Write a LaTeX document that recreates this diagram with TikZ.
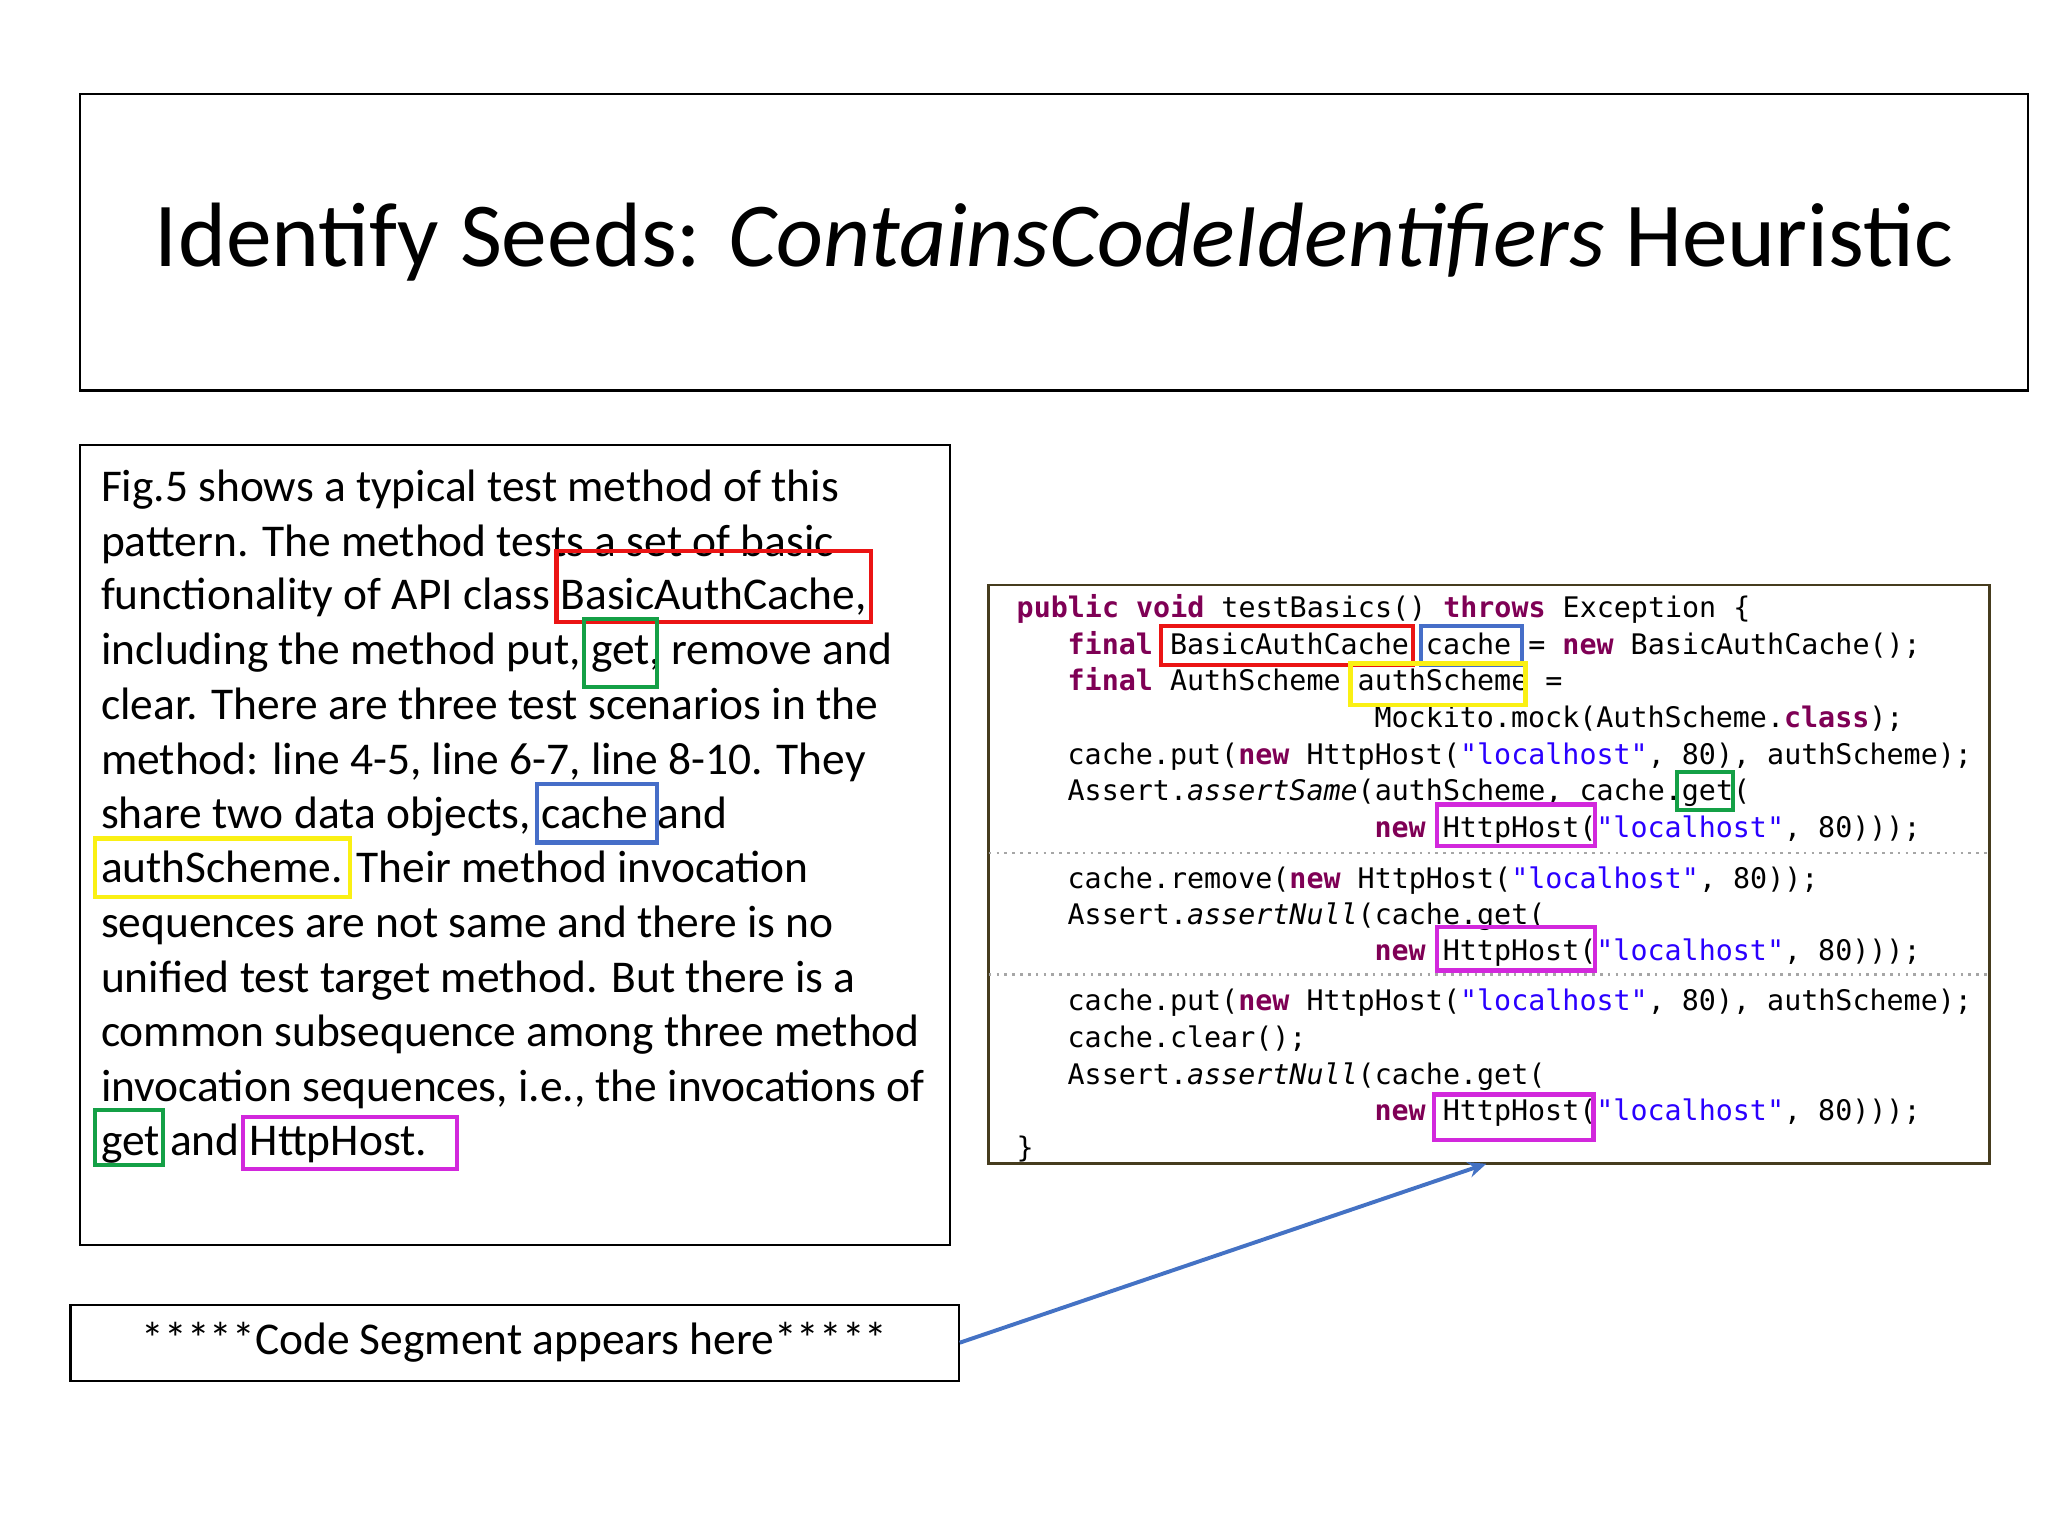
\documentclass[tikz,border=0pt]{standalone}
\usepackage{fontspec}
\setmainfont{Carlito}
\newfontfamily\codefont{DejaVu Sans Mono}
\usetikzlibrary{arrows.meta}
\definecolor{kwc}{RGB}{127,0,85}
\definecolor{strc}{RGB}{42,0,255}
\definecolor{hred}{RGB}{235,20,20}
\definecolor{hgreen}{RGB}{20,160,70}
\definecolor{hblue}{RGB}{70,110,200}
\definecolor{hyel}{RGB}{250,240,20}
\definecolor{hmag}{RGB}{210,40,220}
\definecolor{arr}{RGB}{68,114,196}
\newcommand\kw[1]{\textcolor{kwc}{\bfseries #1}}
\newcommand\st[1]{\textcolor{strc}{#1}}
\tikzset{
 frame/.style={draw=black, line width=0.8pt},
 body/.style={anchor=base west, inner sep=0, font=\fontsize{17.4}{20}\selectfont},
 code/.style={anchor=base west, inner sep=0, font=\codefont\fontsize{10.85}{14}\selectfont},
 hl/.style={line width=1.6pt},
}
\begin{document}
\begin{tikzpicture}[x=0.5pt,y=-0.5pt]
\useasboundingbox (0,0) rectangle (1568,1176);
% title
\draw[frame] (61,72) rectangle (1553,299);
\node[inner sep=0, font=\fontsize{35}{40}\selectfont] (title) at (807,185) {Identify Seeds: \textit{ContainsCodeIdentifiers} Heuristic};
% text box
\draw[frame] (61,341) rectangle (727,953);
\node[body] (l1) at (77,384) {Fig.5 shows a typical test method of this};
\node[body] (l2) at (77,426) {pattern. The method tests a set of basic};
\node[body] (l3) at (77,467) {functionality of API class BasicAuthCache,};
\node[body] (l4) at (77,509) {including the method put, get, remove and};
\node[body] (l5) at (77,551) {clear. There are three test scenarios in the};
\node[body] (l6) at (77,593) {method: line 4-5, line 6-7, line 8-10. They};
\node[body] (l7) at (77,634) {share two data objects, cache and};
\node[body] (l8) at (77,676) {authScheme. Their method invocation};
\node[body] (l9) at (77,718) {sequences are not same and there is no};
\node[body] (l10) at (77,760) {unified test target method. But there is a};
\node[body] (l11) at (77,801) {common subsequence among three method};
\node[body] (l12) at (77,843) {invocation sequences, i.e., the invocations of};
\node[body] (l13) at (77,885) {get and HttpHost.};
\draw[hl,hred] (426,422) rectangle (667,476);
\draw[hl,hgreen] (447,474) rectangle (503,526);
\draw[hl,hblue] (411,600) rectangle (503,645);
\draw[hl,hyel] (73,642) rectangle (268,687);
\draw[hl,hgreen] (73,850) rectangle (125,892);
\draw[hl,hmag] (186,855) rectangle (350,895);
% code box
\draw[draw={rgb,255:red,70;green,60;blue,30}, line width=1pt] (757,448) rectangle (1523,891);
\draw[gray!70, dotted, line width=1pt] (757,653) -- (1523,653);
\draw[gray!70, dotted, line width=1pt] (757,746) -- (1523,746);
\node[code] (c1) at (778,473) {\kw{public} \kw{void} testBasics() \kw{throws} Exception \{};
\node[code] (c2) at (817,501) {\kw{final} BasicAuthCache cache = \kw{new} BasicAuthCache();};
\node[code] (c3) at (817,529) {\kw{final} AuthScheme authScheme =};
\node[code] (c4) at (1052,557) {Mockito.mock(AuthScheme.\kw{class});};
\node[code] (c5) at (817,585) {cache.put(\kw{new} HttpHost(\st{"localhost"}, 80), authScheme);};
\node[code] (c6) at (817,613) {Assert.\textit{assertSame}(authScheme, cache.get(};
\node[code] (c7) at (1052,641) {\kw{new} HttpHost(\st{"localhost"}, 80)));};
\node[code] (c8) at (817,680) {cache.remove(\kw{new} HttpHost(\st{"localhost"}, 80));};
\node[code] (c9) at (817,708) {Assert.\textit{assertNull}(cache.get(};
\node[code] (c10) at (1052,735) {\kw{new} HttpHost(\st{"localhost"}, 80)));};
\node[code] (c11) at (817,774) {cache.put(\kw{new} HttpHost(\st{"localhost"}, 80), authScheme);};
\node[code] (c12) at (817,802) {cache.clear();};
\node[code] (c13) at (817,830) {Assert.\textit{assertNull}(cache.get(};
\node[code] (c14) at (1052,858) {\kw{new} HttpHost(\st{"localhost"}, 80)));};
\node[code] (c15) at (778,886) {\}};
\draw[hl,hred] (889,479) rectangle (1082,509);
\draw[hl,hblue] (1088,479) rectangle (1165,509);
\draw[hl,hyel] (1034,508) rectangle (1168,540);
\draw[hl,hgreen] (1284,591) rectangle (1327,620);
\draw[hl,hmag] (1100,616) rectangle (1221,648);
\draw[hl,hmag] (1100,710) rectangle (1221,743);
\draw[hl,hmag] (1098,838) rectangle (1220,873);
% bottom box
\node[frame, minimum width=340pt, minimum height=29pt, inner sep=0, font=\fontsize{17.4}{20}\selectfont] (seg) at (394,1028) {*****Code Segment appears here*****};
\coordinate (tip) at (1138,891);
\draw[arr, line width=1.5pt, -{Stealth[length=7pt,width=6pt]}] (seg.east) -- (tip);
\end{tikzpicture}
\end{document}
